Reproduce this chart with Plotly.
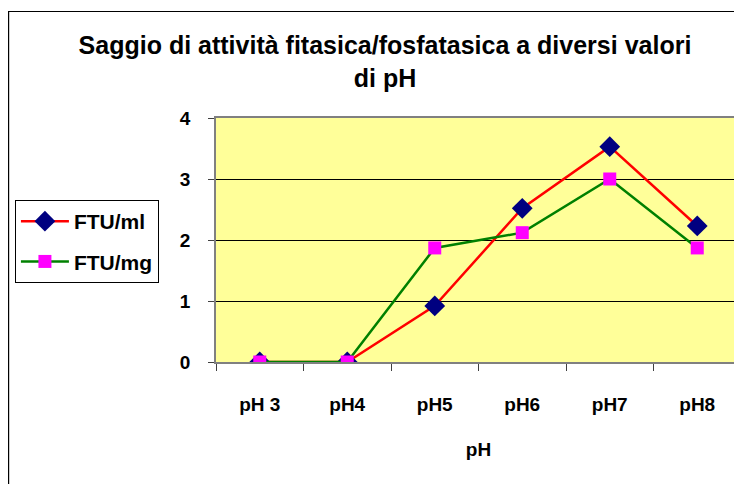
import plotly.graph_objects as go

categories = ["pH 3", "pH4", "pH5", "pH6", "pH7", "pH8"]
ftu_ml = [0, 0, 0.92, 2.52, 3.53, 2.23]
ftu_mg = [0, 0, 1.87, 2.12, 3.0, 1.87]
y_ticks = [0, 1, 2, 3, 4]

FONT = "Arial, Liberation Sans, sans-serif"

fig = go.Figure()
fig.add_trace(go.Scatter(
    x=categories, y=ftu_ml, name="FTU/ml", mode="lines+markers", legendgroup="a",
    line=dict(color="#FF0000", width=2.5),
    marker=dict(symbol="diamond", size=16, color="#000080"),
))
fig.add_trace(go.Scatter(
    x=categories, y=ftu_mg, name="FTU/mg", mode="lines+markers", legendgroup="b",
    line=dict(color="#008000", width=2.5),
    marker=dict(symbol="square", size=13, color="#FF00FF"),
))

fig.update_layout(
    width=734, height=476,
    margin=dict(l=208, r=1, t=110, b=122, autoexpand=False),
    paper_bgcolor="white",
    plot_bgcolor="#FFFF99",
    font=dict(family=FONT, color="black", weight="bold"),
    title=dict(
        text="Saggio di attività fitasica/fosfatasica a diversi valori<br>di pH",
        x=0.5136, xanchor="center", y=0.903, yanchor="top",
        font=dict(size=25, family=FONT, color="black", weight="bold"),
    ),
    showlegend=True,
    legend=dict(
        x=-0.383, xanchor="left", y=0.664, yanchor="top",
        bordercolor="black", borderwidth=1, bgcolor="white",
        font=dict(size=21, family=FONT, color="black", weight="bold"),
        tracegroupgap=10, itemwidth=48, traceorder="grouped",
    ),
    shapes=[dict(
        type="rect", xref="paper", yref="paper",
        x0=(0.6 - 208) / 525, x1=1.2, y0=-1.0, y1=(354 - 3.5) / 244,
        line=dict(color="black", width=1.2), fillcolor="rgba(0,0,0,0)", layer="below",
    )],
)

fig.update_xaxes(
    type="category", range=[-0.5, 5.5], automargin=False,
    showline=True, linecolor="#808080", linewidth=1.5, mirror=True,
    ticks="outside", tickson="boundaries", ticklen=7, tickcolor="#404040",
    showgrid=False,
    tickfont=dict(size=19, family=FONT, color="black", weight="bold"),
    ticklabelstandoff=24,
    title=dict(text="pH", font=dict(size=19, family=FONT, color="black", weight="bold"), standoff=29),
)
fig.update_yaxes(
    range=[0, 4], tickvals=y_ticks, automargin=False,
    showline=True, linecolor="#808080", linewidth=1.5, mirror=True,
    ticks="outside", ticklen=6, tickcolor="#404040",
    showgrid=True, gridcolor="black", gridwidth=1, zeroline=False,
    tickfont=dict(size=19, family=FONT, color="black", weight="bold"),
    ticklabelstandoff=14,
)

fig.write_html("out.html")
